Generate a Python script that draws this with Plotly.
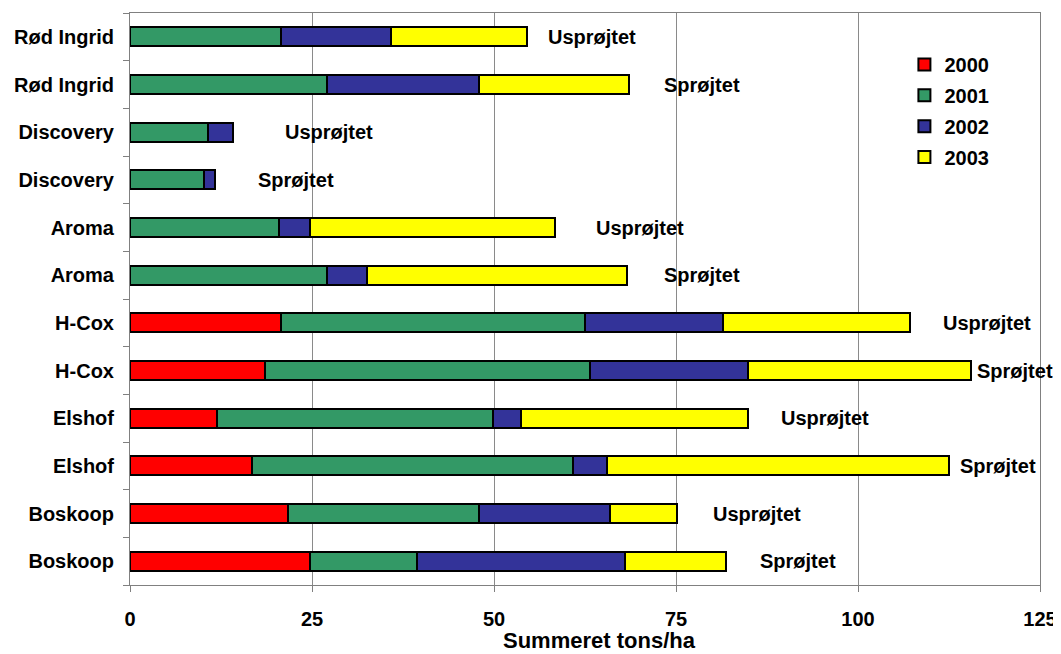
import plotly.graph_objects as go

# Rows listed top to bottom as shown
categories = ["Rød Ingrid", "Rød Ingrid", "Discovery", "Discovery", "Aroma", "Aroma",
              "H-Cox", "H-Cox", "Elshof", "Elshof", "Boskoop", "Boskoop"]
treatment = ["Usprøjtet", "Sprøjtet", "Usprøjtet", "Sprøjtet", "Usprøjtet", "Sprøjtet",
             "Usprøjtet", "Sprøjtet", "Usprøjtet", "Sprøjtet", "Usprøjtet", "Sprøjtet"]

v2000 = [0, 0, 0, 0, 0, 0, 20.8, 18.5, 11.9, 16.8, 21.7, 24.7]
v2001 = [20.8, 27.0, 10.7, 10.2, 20.4, 27.1, 41.7, 44.7, 37.9, 44.1, 26.3, 14.7]
v2002 = [15.1, 21.0, 3.4, 1.5, 4.3, 5.4, 18.9, 21.7, 3.9, 4.6, 18.0, 28.6]
v2003 = [18.6, 20.6, 0, 0, 33.7, 35.8, 25.8, 30.6, 31.2, 47.0, 9.2, 13.8]

# x position (data units) where each treatment label starts
label_x = [57.2, 73.1, 21.0, 17.3, 63.7, 73.1, 111.4, 116.1, 89.2, 113.7, 79.8, 86.3]

series = [("2000", v2000, "#FF0000"), ("2001", v2001, "#339966"),
          ("2002", v2002, "#333399"), ("2003", v2003, "#FFFF00")]

ypos = list(range(len(categories)))

FONT = "Liberation Sans, Arial, sans-serif"
FS = 20

fig = go.Figure()
for name, vals, col in series:
    fig.add_trace(go.Bar(
        y=ypos, x=vals, name=name, orientation="h", width=0.4,
        marker=dict(color=col, line=dict(color="black", width=2)),
        legendgroup=name,
    ))

for yy, txt, lx in zip(ypos, treatment, label_x):
    fig.add_annotation(x=lx, y=yy, text=txt, xanchor="left", yanchor="middle",
                       showarrow=False, font=dict(family=FONT, size=FS, color="black", weight="bold"))

fig.add_annotation(x=0.5156, y=-0.097, xref="paper", yref="paper", text="Summeret tons/ha",
                   showarrow=False, xanchor="center", yanchor="middle",
                   font=dict(family=FONT, size=22, color="black", weight="bold"))

boundaries = [i - 0.5 for i in range(len(categories) + 1)]

fig.update_layout(
    barmode="stack",
    width=1053, height=646,
    margin=dict(l=121.5, r=19, t=4, b=69),
    paper_bgcolor="white", plot_bgcolor="white",
    font=dict(family=FONT, size=FS, color="black", weight="bold"),
    legend=dict(x=0.851, y=0.944, xanchor="left", yanchor="top", traceorder="grouped",
                tracegroupgap=1.8, font=dict(family=FONT, size=FS, color="black", weight="bold"),
                bgcolor="rgba(0,0,0,0)"),
    xaxis=dict(range=[0, 125], dtick=25, tick0=0, showgrid=True, gridcolor="#8a8a8a", gridwidth=1,
               zeroline=False, showline=True, linecolor="#808080", linewidth=1, mirror=True,
               ticks="outside", ticklen=6, tickcolor="#808080", ticklabelstandoff=10,
               tickfont=dict(family=FONT, size=FS, color="black", weight="bold")),
    yaxis=dict(range=[11.5, -0.5], tickmode="array", tickvals=ypos, ticktext=categories,
               ticks="", showgrid=False, zeroline=False, showline=True, linecolor="#808080",
               linewidth=1, mirror=True, ticklabelstandoff=11,
               minor=dict(tickmode="array", tickvals=boundaries, ticks="outside", ticklen=6,
                          tickcolor="#808080", showgrid=False),
               tickfont=dict(family=FONT, size=FS, color="black", weight="bold")),
)

fig.write_html("out.html")
